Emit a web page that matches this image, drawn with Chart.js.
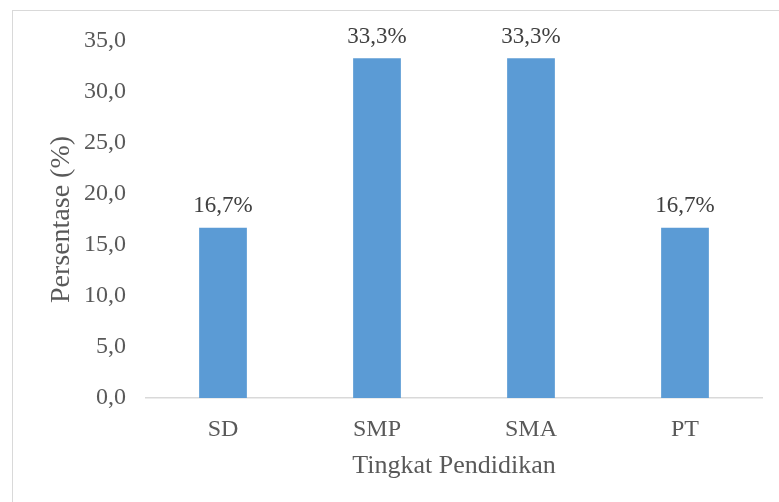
<!DOCTYPE html>
<html>
<head>
<meta charset="utf-8">
<script src="https://cdn.jsdelivr.net/npm/chart.js@4"></script>
<style>
    body { margin: 0; background: #fff; }
    #wrap { position: relative; width: 779px; height: 502px; overflow: hidden; }
    #frame { position: absolute; left: 12px; top: 10px; width: 800px; height: 520px;
             border-top: 1px solid #d9d9d9; border-left: 1px solid #d9d9d9; }
    canvas { position: absolute; left: 0; top: 0; }
</style>
</head>
<body>
<div id="wrap">
    <div id="frame"></div>
    <canvas id="myChart" width="779" height="502"></canvas>
</div>
<script>
const categories = ['SD', 'SMP', 'SMA', 'PT'];
const percentages = [16.7, 33.3, 33.3, 16.7];
const valueLabels = ['16,7%', '33,3%', '33,3%', '16,7%'];
const yTickLabels = ['0,0', '5,0', '10,0', '15,0', '20,0', '25,0', '30,0', '35,0'];

const textColor = '#595959';
const serif = "'Liberation Serif', 'Times New Roman', serif";

// draws the value above each bar
const barLabels = {
    id: 'barLabels',
    afterDatasetsDraw(chart) {
        const ctx = chart.ctx;
        const meta = chart.getDatasetMeta(0);
        ctx.save();
        ctx.font = '23px ' + serif;
        ctx.fillStyle = '#404040';
        ctx.textAlign = 'center';
        ctx.textBaseline = 'bottom';
        meta.data.forEach((bar, i) => {
            ctx.fillText(valueLabels[i], bar.x, bar.y - 10);
        });
        ctx.restore();
    }
};

const ctx = document.getElementById('myChart').getContext('2d');
new Chart(ctx, {
    type: 'bar',
    data: {
        labels: categories,
        datasets: [{
            data: percentages,
            backgroundColor: '#5b9bd5',
            barPercentage: 0.31,
            categoryPercentage: 1
        }]
    },
    options: {
        responsive: false,
        animation: false,
        layout: { padding: { left: 0, right: 17, top: 41, bottom: 0 } },
        plugins: { legend: { display: false }, tooltip: { enabled: false } },
        scales: {
            x: {
                grid: { display: false, drawTicks: false },
                border: { display: true, color: '#d9d9d9', width: 1.5 },
                ticks: { color: textColor, padding: 17, font: { family: serif, size: 24 } },
                title: {
                    display: true,
                    text: 'Tingkat Pendidikan',
                    color: textColor,
                    font: { family: serif, size: 26 },
                    padding: { top: 0, bottom: 20 }
                },
                afterFit(scale) { scale.height = 104; }
            },
            y: {
                min: 0,
                max: 35,
                grid: { display: false, drawTicks: false },
                border: { display: false },
                ticks: {
                    stepSize: 5,
                    color: textColor,
                    padding: 20,
                    font: { family: serif, size: 24 },
                    callback: (value) => yTickLabels[value / 5]
                },
                title: {
                    display: true,
                    text: 'Persentase (%)',
                    color: textColor,
                    font: { family: serif, size: 28 },
                    padding: { top: 45, bottom: 0 }
                },
                afterFit(scale) { scale.width = 146; }
            }
        }
    },
    plugins: [barLabels]
});
</script>
</body>
</html>
